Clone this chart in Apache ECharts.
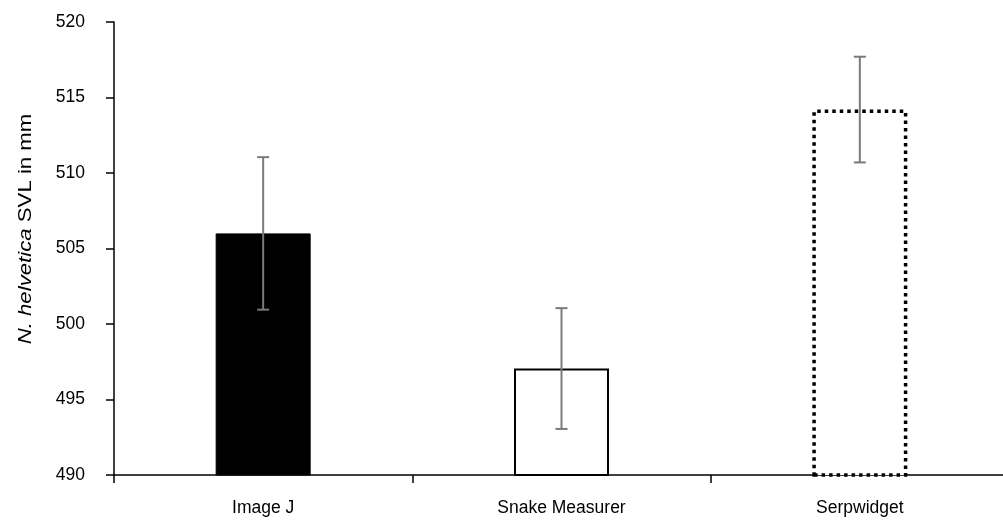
<!DOCTYPE html>
<html><head><meta charset="utf-8">
<script src="https://cdn.jsdelivr.net/npm/echarts@6/dist/echarts.min.js"></script>
<style>html,body{margin:0;padding:0;background:#fff}#c{width:1003px;height:525px}</style>
</head><body><div id="c"></div>
<script>
const categories = ['Image J', 'Snake Measurer', 'Serpwidget'];
const means = [506.0, 497.05, 514.2];
const errors = [5.05, 4.0, 3.5];
const yTicks = [490, 495, 500, 505, 510, 515, 520];

const NARROW = '"Liberation Sans Narrow","Arial Narrow","Liberation Sans",Arial,sans-serif';
const REG = '"Liberation Sans",Arial,sans-serif';

const barStyles = [
  { color: '#000', borderColor: '#000', borderWidth: 1 },
  { color: '#fff', borderColor: '#000', borderWidth: 2 },
  { color: '#fff', borderColor: '#000', borderWidth: 3.5, borderType: [3.5, 4] }
];

const chart = echarts.init(document.getElementById('c'), null, { renderer: 'canvas' });
chart.setOption({
  animation: false,
  backgroundColor: '#fff',
  grid: { left: 114, top: 22, bottom: 50, width: 895, containLabel: false, outerBoundsMode: 'none' },
  xAxis: {
    type: 'category',
    data: categories,
    axisLine: { lineStyle: { color: '#000', width: 1.5 } },
    axisTick: { show: true, length: 8, lineStyle: { color: '#000', width: 1.5 }, alignWithLabel: false },
    axisLabel: { color: '#000', fontSize: 17.5, fontFamily: NARROW, margin: 24 },
    splitLine: { show: false }
  },
  yAxis: {
    type: 'value',
    min: yTicks[0],
    max: yTicks[yTicks.length - 1],
    interval: yTicks[1] - yTicks[0],
    axisLine: { show: true, lineStyle: { color: '#000', width: 1.5 } },
    axisTick: { show: true, length: 8, lineStyle: { color: '#000', width: 1.5 } },
    axisLabel: { color: '#000', fontSize: 17.5, fontFamily: NARROW, margin: 29 },
    splitLine: { show: false }
  },
  graphic: [{
    type: 'text',
    x: 26, y: 229,
    rotation: Math.PI / 2,
    scaleX: 1.2,
    style: {
      text: '{i|N. helvetica} SVL in mm',
      fontSize: 18.5,
      fontFamily: REG,
      fill: '#000',
      align: 'center',
      verticalAlign: 'middle',
      rich: { i: { fontStyle: 'italic', fontSize: 18.5, fontFamily: REG, fill: '#000' } }
    }
  }],
  series: [
    {
      type: 'bar',
      barWidth: 95,
      data: means.map((v, i) => ({ value: v, itemStyle: barStyles[i] })),
      z: 2
    },
    {
      type: 'custom',
      z: 5,
      data: categories.map((c, i) => [i, means[i] - errors[i], means[i] + errors[i]]),
      renderItem: function (params, api) {
        const x = api.value(0);
        const top = api.coord([x, api.value(2)]);
        const bot = api.coord([x, api.value(1)]);
        const hw = 6;
        const st = { stroke: '#7a7a7a', lineWidth: 2 };
        return {
          type: 'group',
          children: [
            { type: 'line', shape: { x1: top[0], y1: top[1], x2: bot[0], y2: bot[1] }, style: st },
            { type: 'line', shape: { x1: top[0] - hw, y1: top[1], x2: top[0] + hw, y2: top[1] }, style: st },
            { type: 'line', shape: { x1: bot[0] - hw, y1: bot[1], x2: bot[0] + hw, y2: bot[1] }, style: st }
          ]
        };
      }
    }
  ]
});
</script></body></html>
